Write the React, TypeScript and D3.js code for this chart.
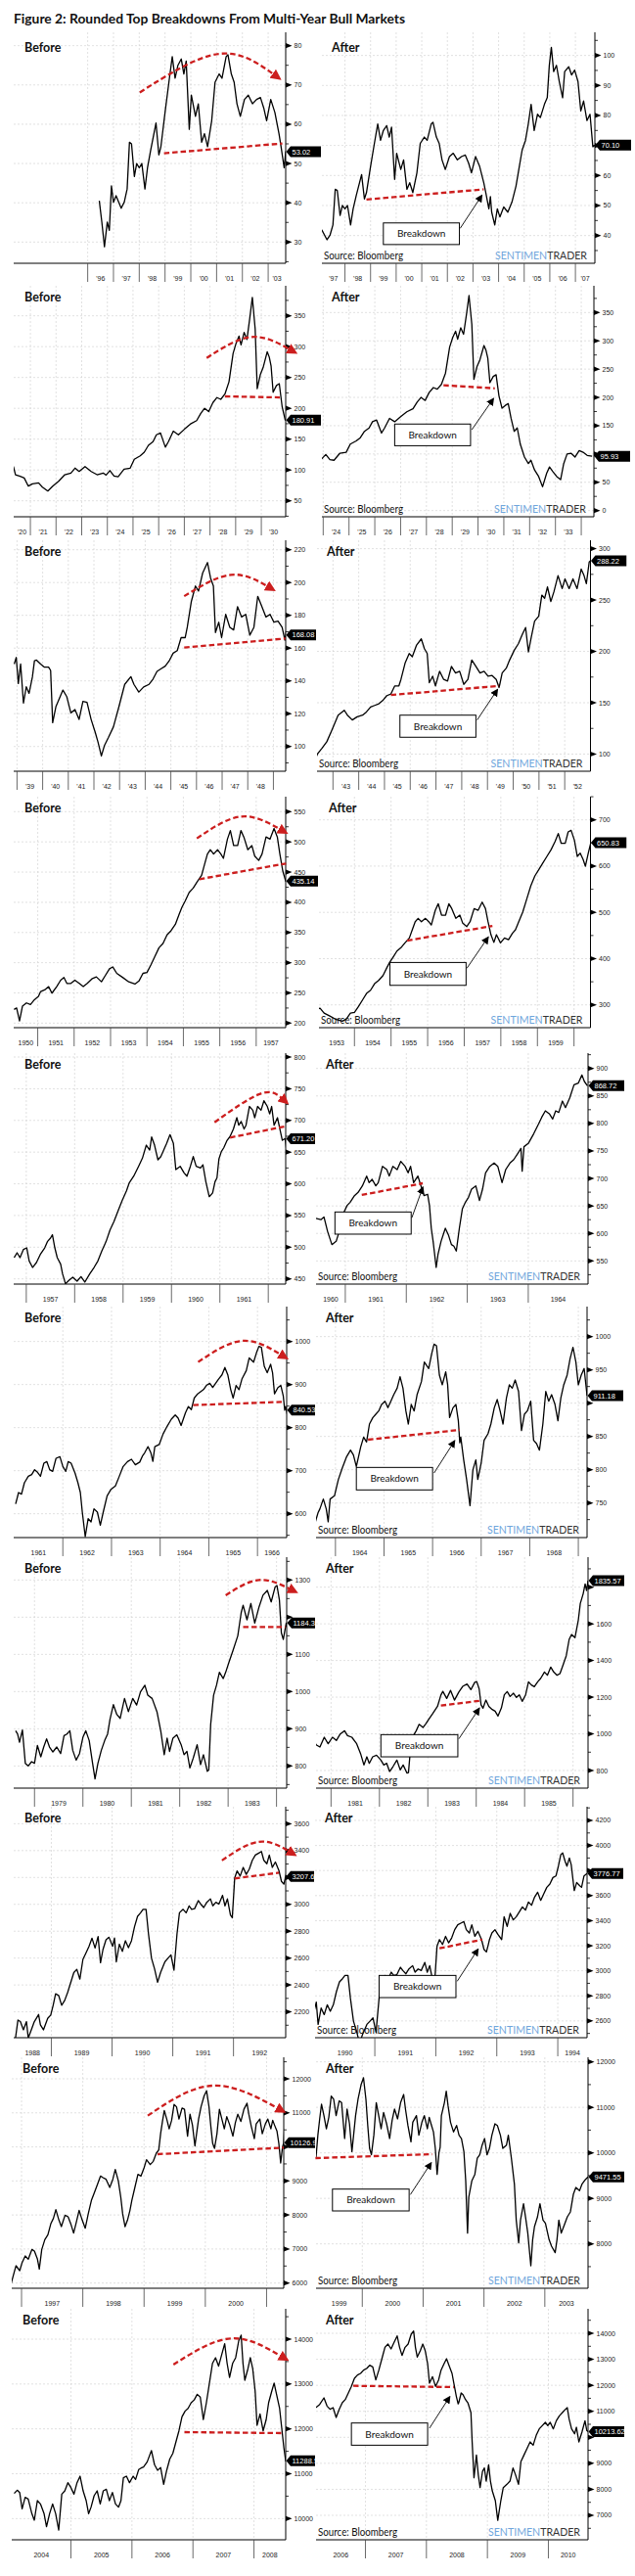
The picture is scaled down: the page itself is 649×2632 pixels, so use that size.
import React from "react";
import * as d3 from "d3";

type P = [number, number];

// ---------------- DATA (fractional year, index value) ----------------
const row1: P[] = [[1996.45,40.5],[1996.55,35],[1996.65,28.8],[1996.76,35.1],[1996.84,33],[1996.92,44.3],[1997.0,40.1],[1997.1,41.8],[1997.3,38.6],[1997.42,40.2],[1997.53,43.5],[1997.62,55.4],[1997.7,55],[1997.81,46.7],[1997.9,50],[1998.0,48.9],[1998.1,50],[1998.22,43.5],[1998.32,48.9],[1998.44,53.3],[1998.65,60.3],[1998.76,52.2],[1998.84,54.3],[1999.0,63],[1999.15,70.7],[1999.28,77.2],[1999.39,71.7],[1999.5,75],[1999.63,76.6],[1999.73,72.8],[1999.82,76.1],[1999.94,58.7],[2000.02,67.4],[2000.18,62],[2000.29,65.2],[2000.42,55.4],[2000.53,57.6],[2000.65,54.3],[2000.81,60.9],[2000.94,70.7],[2001.1,72.8],[2001.21,71.7],[2001.37,77.2],[2001.44,77.7],[2001.57,72.8],[2001.68,70.7],[2001.79,65.2],[2001.92,62],[2002.08,66.3],[2002.23,67.4],[2002.39,65.2],[2002.55,66.3],[2002.7,66.8],[2002.83,64.1],[2002.94,60.9],[2003.1,66.3],[2003.26,63],[2003.42,57.6],[2003.5,54.3],[2003.62,48.9],[2003.68,53],[2003.73,47.8],[2003.85,43.5],[2003.95,48.9],[2004.05,46.2],[2004.2,49.5],[2004.36,47.8],[2004.52,51.1],[2004.68,56.5],[2004.79,62],[2004.92,68.5],[2005.05,71.7],[2005.16,77.2],[2005.27,83.7],[2005.39,75],[2005.52,80.4],[2005.63,79.3],[2005.79,83.7],[2005.9,85.9],[2005.98,96.7],[2006.06,102.7],[2006.15,94.6],[2006.26,96.7],[2006.37,91.3],[2006.5,85.9],[2006.58,94.6],[2006.74,96.2],[2006.85,93.5],[2006.97,95.1],[2007.1,91.3],[2007.21,81.5],[2007.32,84.8],[2007.45,78.3],[2007.57,80.4],[2007.68,69.6],[2007.76,70.1]];

const row2: P[] = [[1920.34,105.6],[1920.42,92.3],[1920.6,89.7],[1920.76,87],[1920.92,73.8],[1921.08,77.5],[1921.32,79],[1921.47,72.2],[1921.68,65.9],[1921.87,73.8],[1922.1,81.7],[1922.34,92.3],[1922.58,95],[1922.74,103],[1922.9,97.6],[1923.13,105.6],[1923.37,97.6],[1923.6,92.3],[1923.84,95],[1923.95,91.7],[1924.1,99],[1924.26,90],[1924.42,88.9],[1924.65,101.4],[1924.89,103],[1925.05,117.4],[1925.28,123],[1925.44,128.9],[1925.6,140],[1925.78,146],[1925.91,157],[1926.07,160],[1926.26,137],[1926.38,146],[1926.57,163],[1926.77,157],[1927.0,166],[1927.24,174.6],[1927.48,180],[1927.64,191.7],[1927.79,200],[1927.95,194.6],[1928.11,209],[1928.27,217.4],[1928.42,214.6],[1928.58,223],[1928.74,243],[1928.9,289],[1929.02,306],[1929.13,317],[1929.21,303],[1929.33,323],[1929.44,311.7],[1929.55,346],[1929.65,380],[1929.76,328.9],[1929.84,231.7],[1929.96,254.6],[1930.07,266],[1930.23,291.7],[1930.31,283],[1930.38,268.9],[1930.46,226],[1930.59,237],[1930.7,240],[1930.81,203],[1930.93,180.9],[1931.06,186],[1931.17,189],[1931.28,163],[1931.4,140],[1931.52,146],[1931.64,117],[1931.8,94.6],[1931.95,83],[1932.05,89],[1932.19,71.7],[1932.35,60],[1932.5,42],[1932.66,66],[1932.77,77],[1932.9,68.9],[1933.05,60],[1933.2,54.6],[1933.32,83],[1933.45,100],[1933.6,101.4],[1933.76,94.6],[1933.92,106],[1934.07,103],[1934.23,97.4],[1934.42,95.93]];

const row3: P[] = [[1938.89,150.3],[1938.97,154.3],[1939.05,138.4],[1939.14,150.3],[1939.25,126.5],[1939.36,136.4],[1939.47,132.4],[1939.6,142.4],[1939.68,152.3],[1939.76,152.7],[1939.92,150.3],[1940.07,148.4],[1940.23,148.4],[1940.31,146.4],[1940.39,114.5],[1940.52,124.5],[1940.63,128.5],[1940.79,134.4],[1940.94,130.4],[1941.1,120.5],[1941.26,122.5],[1941.42,116.5],[1941.57,127.5],[1941.73,126.9],[1941.89,116.5],[1942.05,108.6],[1942.16,102.6],[1942.29,94.2],[1942.41,100.6],[1942.57,105.6],[1942.76,112],[1942.97,124],[1943.2,137.9],[1943.44,142.6],[1943.56,137.9],[1943.75,133.2],[1943.94,136.3],[1944.15,137.9],[1944.3,141],[1944.46,145.8],[1944.62,147.4],[1944.78,149],[1944.93,152.1],[1945.09,156.9],[1945.25,158.5],[1945.4,166.4],[1945.56,166.4],[1945.64,172.7],[1945.8,188.5],[1945.96,197.9],[1946.08,194.8],[1946.24,205.8],[1946.43,212.2],[1946.55,202.7],[1946.66,197.9],[1946.74,169.5],[1946.87,175.8],[1946.98,166.4],[1947.14,180.6],[1947.3,172.7],[1947.45,171.1],[1947.6,185.3],[1947.76,179],[1947.92,180.6],[1948.08,167.9],[1948.24,172.7],[1948.39,191.6],[1948.55,185.3],[1948.71,179],[1948.87,180.6],[1949.02,175.8],[1949.18,176.5],[1949.34,172.7],[1949.45,164.8],[1949.48,168.1],[1949.57,179],[1949.73,183.7],[1949.86,191.6],[1950.04,201.1],[1950.2,207.4],[1950.36,216.9],[1950.48,223.2],[1950.59,199.5],[1950.7,213.7],[1950.83,229.5],[1950.99,234.3],[1951.11,254.8],[1951.22,251.7],[1951.33,262.7],[1951.46,248.5],[1951.58,258],[1951.74,273.8],[1951.9,261.1],[1952.01,270.6],[1952.17,261.1],[1952.32,270.6],[1952.48,261.1],[1952.64,280.1],[1952.75,273.8],[1952.84,265.9],[1952.95,287],[1953.0,288.2]];

const row4: P[] = [[1950.35,222.6],[1950.42,225],[1950.5,203.7],[1950.58,228],[1950.69,233.4],[1950.8,230.7],[1950.91,238.8],[1951.02,244.2],[1951.08,252.3],[1951.19,255],[1951.3,260.4],[1951.39,249.6],[1951.52,260.4],[1951.63,271.1],[1951.72,275.5],[1951.8,265.7],[1951.91,265.7],[1952.02,271.1],[1952.14,265.7],[1952.25,260.4],[1952.36,265.7],[1952.5,273.8],[1952.61,276.5],[1952.75,268.4],[1952.86,279.2],[1952.97,290],[1953.06,293],[1953.17,282.4],[1953.34,275.3],[1953.5,268.3],[1953.67,264.7],[1953.78,269.7],[1953.89,282.4],[1954.0,283.8],[1954.11,296.5],[1954.22,310.6],[1954.33,324.7],[1954.44,331.7],[1954.55,345.9],[1954.66,352.9],[1954.78,363.5],[1954.89,381.1],[1954.96,391.7],[1955.05,402.3],[1955.16,416.4],[1955.27,423.5],[1955.38,434],[1955.5,444.6],[1955.58,462.3],[1955.66,479.9],[1955.74,487],[1955.83,479.9],[1955.94,487],[1956.03,479.9],[1956.1,472.8],[1956.21,504.6],[1956.29,518.7],[1956.38,494],[1956.49,494],[1956.58,518.7],[1956.66,508.1],[1956.77,487],[1956.88,494],[1956.96,476.4],[1957.07,469.3],[1957.16,479.9],[1957.27,508.1],[1957.38,504.6],[1957.49,522.2],[1957.58,508.1],[1957.65,479.9],[1957.73,451.7],[1957.81,435.1],[1957.88,451.7],[1957.99,434],[1958.1,444.6],[1958.21,441],[1958.32,455.2],[1958.4,462.3],[1958.49,479.9],[1958.6,501],[1958.71,529.3],[1958.82,557.5],[1958.93,578.7],[1959.04,592.8],[1959.15,606.9],[1959.26,621],[1959.37,635],[1959.48,652.7],[1959.57,670.4],[1959.65,649.2],[1959.76,649.2],[1959.84,673.9],[1959.92,677.4],[1960.01,656.3],[1960.09,621],[1960.17,628],[1960.25,614],[1960.31,599.8],[1960.39,628],[1960.46,650.8]];

const row5: P[] = [[1956.75,483.5],[1956.81,491.2],[1956.87,483.5],[1956.94,496.3],[1957.01,498.9],[1957.06,478.3],[1957.13,468],[1957.21,475.8],[1957.29,488.6],[1957.38,498.9],[1957.44,509.2],[1957.5,514.4],[1957.54,519.5],[1957.59,498.9],[1957.64,483.5],[1957.71,473.2],[1957.75,457.8],[1957.81,442.3],[1957.88,447.5],[1957.96,452.6],[1958.05,446.4],[1958.13,453.6],[1958.21,444.9],[1958.31,457.8],[1958.4,468],[1958.48,478.3],[1958.56,493.8],[1958.65,509.2],[1958.73,527.2],[1958.81,540.1],[1958.9,558.1],[1958.98,573.5],[1959.07,589],[1959.13,601.9],[1959.22,612.1],[1959.32,627.6],[1959.4,640.5],[1959.48,661],[1959.55,653.3],[1959.59,673.9],[1959.65,661],[1959.72,637.9],[1959.78,643],[1959.84,653.3],[1959.9,663.6],[1959.97,677.5],[1960.04,663.6],[1960.09,622.4],[1960.18,627.6],[1960.26,617.3],[1960.32,612.1],[1960.39,627.6],[1960.45,643],[1960.51,627.6],[1960.6,625],[1960.65,630],[1960.71,603.4],[1960.78,579.7],[1960.85,585.6],[1960.9,603.4],[1960.94,609.4],[1960.98,639],[1961.03,650.9],[1961.08,656.8],[1961.15,668.7],[1961.21,674.6],[1961.28,686.5],[1961.35,704.3],[1961.39,692.4],[1961.44,698.3],[1961.5,686.5],[1961.54,692.4],[1961.61,722],[1961.68,716.1],[1961.72,704.3],[1961.78,722],[1961.85,716.1],[1961.91,731],[1961.98,722],[1962.03,710.2],[1962.07,722],[1962.12,692.4],[1962.19,704.3],[1962.24,686.5],[1962.29,668.7],[1962.35,671.2],[1962.38,650.9],[1962.41,609.4],[1962.44,585.6],[1962.49,538.2],[1962.52,561.9],[1962.57,585.6],[1962.64,609.4],[1962.69,597.5],[1962.74,579.7],[1962.78,576.8],[1962.82,567.9],[1962.87,609.4],[1962.92,645],[1962.97,656.8],[1963.02,665.7],[1963.07,680.5],[1963.14,686.5],[1963.2,659.8],[1963.25,680.5],[1963.3,710.2],[1963.37,722],[1963.44,728],[1963.5,722],[1963.57,692.4],[1963.63,716.1],[1963.7,728],[1963.76,733.9],[1963.83,745.8],[1963.88,754.7],[1963.9,713.2],[1963.93,757.7],[1964.0,763.6],[1964.09,781.4],[1964.17,799.2],[1964.22,811],[1964.28,822.9],[1964.35,817],[1964.4,808],[1964.45,822.9],[1964.5,820],[1964.56,840.7],[1964.61,828.8],[1964.68,846.6],[1964.75,870.3],[1964.82,873.3],[1964.88,888.1],[1964.92,876.3],[1964.97,868.7]];

const row6: P[] = [[1961.03,622.7],[1961.09,649.2],[1961.15,645.5],[1961.21,672],[1961.29,687],[1961.36,690.9],[1961.42,702.3],[1961.48,696.2],[1961.54,687],[1961.61,717.4],[1961.67,721.2],[1961.73,702.3],[1961.79,698.5],[1961.86,728.8],[1961.94,732.6],[1962.0,709.8],[1962.06,698.5],[1962.11,721.2],[1962.17,717.4],[1962.25,694.7],[1962.31,672],[1962.36,649.2],[1962.4,603.8],[1962.46,547],[1962.52,588.6],[1962.58,581.1],[1962.64,611.4],[1962.71,603.8],[1962.77,573.5],[1962.83,603.8],[1962.91,641.7],[1962.99,656.8],[1963.08,664.4],[1963.16,687],[1963.24,709.8],[1963.33,721.2],[1963.41,726.5],[1963.49,713.6],[1963.58,720],[1963.64,735],[1963.68,741.2],[1963.75,755.9],[1963.81,741.2],[1963.85,721.6],[1963.89,755.9],[1963.98,760.8],[1964.06,785.3],[1964.14,802.5],[1964.23,819.6],[1964.31,829.4],[1964.37,822],[1964.43,804.9],[1964.52,834.3],[1964.58,849],[1964.64,841.7],[1964.7,868.6],[1964.77,878.4],[1964.83,883.3],[1964.89,888.2],[1964.95,898],[1965.02,902.9],[1965.08,893.1],[1965.14,902.9],[1965.2,912.7],[1965.27,922.5],[1965.33,939.7],[1965.39,922.5],[1965.45,888.2],[1965.5,868.6],[1965.56,898],[1965.62,888.2],[1965.68,912.7],[1965.77,932.4],[1965.83,961.8],[1965.92,952],[1965.98,974],[1966.03,988.7],[1966.08,986.3],[1966.14,942.2],[1966.2,927.5],[1966.27,947.1],[1966.31,927.5],[1966.35,878.4],[1966.42,893.1],[1966.48,898],[1966.53,873.5],[1966.56,840.5],[1966.58,849],[1966.64,814.7],[1966.7,785.3],[1966.77,746],[1966.83,800],[1966.89,814.7],[1966.93,785.3],[1967.0,809.8],[1967.06,844.1],[1967.14,853.9],[1967.2,868.6],[1967.27,893.1],[1967.33,905.4],[1967.39,888.2],[1967.45,868.6],[1967.52,907.8],[1967.58,927.5],[1967.64,922.5],[1967.7,934.8],[1967.77,917.6],[1967.83,858.8],[1967.89,883.3],[1967.95,888.2],[1968.02,902.9],[1968.08,844.1],[1968.14,839.2],[1968.2,829.4],[1968.27,868.6],[1968.33,917.6],[1968.39,902.9],[1968.45,912.7],[1968.52,898],[1968.58,873.5],[1968.64,907.8],[1968.7,927.5],[1968.77,942.2],[1968.83,966.7],[1968.89,983.8],[1968.95,961.8],[1969.0,927.5],[1969.06,942.2],[1969.12,952],[1969.18,911.2]];

const row7: P[] = [[1978.61,894.7],[1978.65,886],[1978.69,864],[1978.75,896.5],[1978.81,807],[1978.87,800],[1978.94,811.4],[1979.0,807],[1979.06,855],[1979.13,824.6],[1979.19,850.9],[1979.25,872.8],[1979.31,850.9],[1979.38,837.7],[1979.46,850.9],[1979.54,833.3],[1979.61,881.6],[1979.67,885.9],[1979.73,894.7],[1979.79,842],[1979.86,815.8],[1979.93,833.3],[1980.0,877.2],[1980.06,894.7],[1980.13,868.4],[1980.2,807],[1980.25,764.9],[1980.31,807],[1980.38,842],[1980.45,868.4],[1980.51,885.9],[1980.56,925.4],[1980.63,964.9],[1980.7,938.6],[1980.77,928],[1980.86,981.5],[1980.94,945.9],[1981.03,981.5],[1981.11,963.7],[1981.19,999.3],[1981.28,1017],[1981.34,990.4],[1981.43,981.5],[1981.53,945.9],[1981.61,892.5],[1981.68,830.2],[1981.74,874.7],[1981.79,839.1],[1981.86,874.7],[1981.94,883.6],[1982.03,857],[1982.09,830.2],[1982.15,839.1],[1982.21,794.7],[1982.28,821.4],[1982.36,857],[1982.43,803.6],[1982.49,830.2],[1982.57,785.8],[1982.6,789],[1982.64,912],[1982.7,990],[1982.76,1017],[1982.82,1052],[1982.9,1035],[1982.95,1052],[1983.02,1080],[1983.1,1110],[1983.2,1150],[1983.27,1212],[1983.31,1232],[1983.39,1193],[1983.47,1237],[1983.55,1184],[1983.64,1228],[1983.72,1259],[1983.81,1272],[1983.89,1241],[1983.97,1281],[1984.01,1285],[1984.06,1246],[1984.1,1158],[1984.14,1140],[1984.2,1184.3],[1984.26,1150],[1984.33,1132.7],[1984.39,1123.8],[1984.45,1097],[1984.52,1141.6],[1984.58,1212.8],[1984.64,1230.6],[1984.7,1203.9],[1984.77,1221.7],[1984.83,1198.6],[1984.89,1212.8],[1984.95,1177.2],[1985.02,1212.8],[1985.08,1284],[1985.14,1266.2],[1985.2,1257.3],[1985.27,1284],[1985.33,1301.8],[1985.41,1337.4],[1985.47,1319.6],[1985.54,1364],[1985.6,1337.4],[1985.67,1319.6],[1985.73,1328.5],[1985.79,1373],[1985.86,1426.3],[1985.92,1515.3],[1985.97,1542],[1986.04,1524.2],[1986.11,1622],[1986.15,1711],[1986.21,1764.4],[1986.25,1817.8],[1986.28,1782],[1986.31,1835.6]];

const row8: P[] = [[1988.41,2005],[1988.45,2139],[1988.49,2127],[1988.54,2066],[1988.59,2127],[1988.62,2005],[1988.67,2066],[1988.72,2127],[1988.79,2180],[1988.82,2103],[1988.87,2066],[1988.94,2151],[1988.99,2176],[1989.03,2249],[1989.07,2334],[1989.12,2322],[1989.17,2249],[1989.22,2285],[1989.27,2346],[1989.32,2419],[1989.37,2492],[1989.42,2516],[1989.47,2443],[1989.52,2590],[1989.57,2638],[1989.62,2687],[1989.67,2748],[1989.72,2675],[1989.77,2760],[1989.81,2565],[1989.85,2663],[1989.9,2736],[1989.95,2755],[1990.01,2687],[1990.04,2750],[1990.07,2572],[1990.12,2703],[1990.17,2650],[1990.22,2729],[1990.27,2677],[1990.32,2729],[1990.37,2833],[1990.42,2911],[1990.47,2937],[1990.51,2963],[1990.56,2963],[1990.6,2781],[1990.65,2598],[1990.7,2520],[1990.75,2420],[1990.8,2494],[1990.87,2572],[1990.92,2598],[1990.97,2624],[1991.02,2510],[1991.07,2781],[1991.11,2937],[1991.17,2963],[1991.22,2937],[1991.27,2989],[1991.31,2963],[1991.36,2968],[1991.42,3028],[1991.46,3002],[1991.51,2976],[1991.56,3015],[1991.62,3041],[1991.66,2989],[1991.71,3015],[1991.76,3002],[1991.82,3067],[1991.86,2989],[1991.9,3041],[1991.95,2920],[1991.98,2900],[1992.02,3197],[1992.06,3249],[1992.11,3210],[1992.16,3275],[1992.21,3223],[1992.26,3262],[1992.31,3328],[1992.36,3367],[1992.41,3380],[1992.46,3393],[1992.5,3328],[1992.55,3302],[1992.59,3367],[1992.64,3275],[1992.69,3315],[1992.75,3249],[1992.79,3171],[1992.83,3150],[1992.86,3207.6],[1992.88,3249],[1992.92,3302],[1992.97,3328],[1993.02,3289],[1993.08,3249],[1993.12,3432],[1993.17,3354],[1993.22,3458],[1993.27,3406],[1993.32,3432],[1993.37,3471],[1993.42,3510],[1993.47,3484],[1993.52,3549],[1993.57,3523],[1993.62,3588],[1993.67,3627],[1993.72,3562],[1993.77,3614],[1993.82,3666],[1993.87,3692],[1993.92,3744],[1993.97,3757],[1994.01,3835],[1994.05,3927],[1994.08,3940],[1994.12,3874],[1994.15,3835],[1994.19,3900],[1994.22,3848],[1994.27,3640],[1994.31,3705],[1994.36,3679],[1994.39,3666],[1994.43,3757],[1994.48,3776.8]];

const row9: P[] = [[1996.83,5981],[1996.88,6316],[1996.91,6508],[1996.97,6364],[1997.01,6604],[1997.06,6795],[1997.11,6700],[1997.17,6987],[1997.21,6939],[1997.26,6700],[1997.29,6412],[1997.33,6987],[1997.38,7275],[1997.43,7418],[1997.48,7754],[1997.52,7898],[1997.56,8156],[1997.61,7850],[1997.65,7658],[1997.71,7993],[1997.76,7946],[1997.81,7706],[1997.85,7466],[1997.89,7754],[1997.94,8137],[1997.99,7850],[1998.04,7610],[1998.09,8041],[1998.14,8425],[1998.18,8616],[1998.24,8904],[1998.29,9144],[1998.33,9096],[1998.38,9048],[1998.44,8808],[1998.49,9048],[1998.53,9335],[1998.58,9000],[1998.62,8521],[1998.65,8041],[1998.69,7658],[1998.73,7850],[1998.77,8137],[1998.8,8425],[1998.85,8808],[1998.9,9192],[1998.95,9144],[1999.0,9383],[1999.04,9623],[1999.1,9479],[1999.15,9575],[1999.2,9815],[1999.24,9910],[1999.27,10387],[1999.3,10746],[1999.33,11068],[1999.37,10817],[1999.41,10530],[1999.45,10781],[1999.49,11247],[1999.53,11176],[1999.57,10817],[1999.62,11140],[1999.66,11104],[1999.71,10315],[1999.75,10961],[1999.79,10638],[1999.83,10029],[1999.89,10817],[1999.93,11176],[1999.98,11498],[2000.02,11650],[2000.06,11176],[2000.09,10602],[2000.12,10100],[2000.15,9957],[2000.19,10387],[2000.23,11104],[2000.27,10817],[2000.31,10530],[2000.35,10889],[2000.4,10638],[2000.45,10315],[2000.49,10710],[2000.53,10961],[2000.58,10746],[2000.63,11104],[2000.68,11283],[2000.71,10961],[2000.75,10602],[2000.8,10244],[2000.83,10674],[2000.89,10817],[2000.93,10387],[2000.98,10674],[2001.02,10817],[2001.07,10530],[2001.1,10781],[2001.13,10638],[2001.17,10459],[2001.2,10100],[2001.23,9527],[2001.26,10000],[2001.28,10126.9],[2001.3,10817],[2001.35,11104],[2001.38,11355],[2001.41,11032],[2001.45,10674],[2001.5,10459],[2001.55,10602],[2001.59,10387],[2001.63,10315],[2001.67,10029],[2001.7,9384],[2001.73,8237],[2001.75,9025],[2001.8,9384],[2001.85,9527],[2001.89,9885],[2001.93,9957],[2001.97,10172],[2002.01,10315],[2002.05,9957],[2002.09,10100],[2002.13,10387],[2002.18,10638],[2002.22,10602],[2002.27,10387],[2002.31,10100],[2002.37,10172],[2002.4,10387],[2002.45,9885],[2002.5,9312],[2002.53,8523],[2002.57,8022],[2002.6,8523],[2002.65,8882],[2002.69,8523],[2002.72,8237],[2002.77,7520],[2002.8,8093],[2002.83,8380],[2002.88,8595],[2002.92,8882],[2002.97,8523],[2003.01,8452],[2003.07,8093],[2003.11,7950],[2003.17,7806],[2003.2,8093],[2003.23,8523],[2003.27,8237],[2003.31,8380],[2003.37,8595],[2003.42,8703],[2003.47,9097],[2003.51,9240],[2003.57,9168],[2003.61,9312],[2003.67,9419],[2003.71,9471.6]];

const row10: P[] = [[2004.07,10560],[2004.12,10633],[2004.16,10582],[2004.2,10218],[2004.25,10473],[2004.3,10436],[2004.36,10109],[2004.4,9964],[2004.45,10400],[2004.5,10327],[2004.56,10109],[2004.6,9818],[2004.65,10109],[2004.7,10327],[2004.75,10109],[2004.8,9745],[2004.85,10545],[2004.9,10618],[2004.95,10800],[2005.0,10691],[2005.05,10545],[2005.1,10800],[2005.15,10945],[2005.2,10618],[2005.25,10400],[2005.29,10109],[2005.33,10255],[2005.38,10509],[2005.43,10618],[2005.48,10327],[2005.53,10618],[2005.58,10655],[2005.63,10400],[2005.68,10582],[2005.73,10327],[2005.78,10255],[2005.82,10400],[2005.86,10909],[2005.91,10945],[2005.96,10800],[2006.02,10945],[2006.06,10873],[2006.11,11091],[2006.15,11127],[2006.19,11150],[2006.25,11265],[2006.32,11516],[2006.37,11202],[2006.42,11077],[2006.47,11139],[2006.52,10763],[2006.57,11077],[2006.62,11327],[2006.67,11453],[2006.72,11704],[2006.77,11955],[2006.82,12268],[2006.87,12394],[2006.92,12457],[2006.97,12582],[2007.02,12645],[2007.07,12770],[2007.12,12708],[2007.17,12206],[2007.22,12582],[2007.27,13021],[2007.32,13460],[2007.37,13586],[2007.42,13398],[2007.47,13649],[2007.52,13900],[2007.56,13460],[2007.6,13147],[2007.65,13460],[2007.7,13586],[2007.75,13962],[2007.79,14088],[2007.82,13460],[2007.85,13084],[2007.9,13335],[2007.94,13586],[2007.98,13335],[2008.02,12833],[2008.05,12080],[2008.1,12331],[2008.15,11955],[2008.2,12206],[2008.24,12582],[2008.29,12833],[2008.33,13021],[2008.37,12770],[2008.42,12457],[2008.45,12080],[2008.49,11578],[2008.52,11288],[2008.53,11327],[2008.57,11704],[2008.6,11641],[2008.64,11453],[2008.68,11327],[2008.73,10951],[2008.75,9822],[2008.78,8442],[2008.82,9320],[2008.85,8567],[2008.88,8065],[2008.92,8693],[2008.95,8818],[2008.98,8316],[2009.02,8944],[2009.05,8316],[2009.08,7940],[2009.13,7564],[2009.17,6810],[2009.22,7564],[2009.26,8065],[2009.32,8191],[2009.37,8316],[2009.42,8818],[2009.46,8567],[2009.51,8191],[2009.55,9069],[2009.6,9320],[2009.65,9571],[2009.7,9822],[2009.75,9696],[2009.8,10073],[2009.85,10324],[2009.9,10449],[2009.95,10575],[2009.99,10449],[2010.03,10575],[2010.08,10324],[2010.13,10637],[2010.18,10826],[2010.23,10951],[2010.28,11077],[2010.31,11139],[2010.34,10700],[2010.38,10324],[2010.43,10135],[2010.46,10386],[2010.5,9822],[2010.55,10198],[2010.6,10637],[2010.63,10261],[2010.66,10213.6]];

const SERIES: P[][] = [row1, row2, row3, row4, row5, row6, row7, row8, row9, row10];

// axis domains (years, values)
const xDomL: P[] = [[1993.13,2003.68],[1920.35,1930.95],[1938.87,1949.48],[1950.34,1957.81],[1956.74,1962.36],[1960.99,1966.6],[1978.57,1984.21],[1988.38,1992.86],[1996.84,2001.28],[2004.03,2008.52]];
const xDomR: P[] = [[1997.1,2007.76],[1923.95,1934.49],[1942.38,1953.0],[1953.03,1960.45],[1960.52,1964.98],[1963.6,1969.18],[1980.69,1986.31],[1990.02,1994.48],[1999.24,2003.71],[2006.19,2010.65]];
const yDomL: P[] = [[24.6,83.4],[24.1,398.7],[84.9,225.8],[192.5,574.8],[441.8,806.2],[544.7,1081],[740.4,1361.4],[2007.3,3726.6],[5846.7,12632.6],[9527.3,14676.4]];
const yDomR: P[] = [[30.76,107.7],[-11,397.3],[83.3,308.2],[250.8,750.1],[507.9,927.9],[698,1045.1],[704,1963.7],[2466,4309.3],[7025,12100.4],[6059,14940.9]];
const yTicksL: number[][] = [[30,80,10],[50,350,50],[100,220,20],[200,550,50],[450,800,50],[600,1000,100],[800,1300,100],[2200,3600,200],[6000,12000,1000],[10000,14000,1000]];
const yTicksR: number[][] = [[40,100,10],[0,350,50],[100,300,50],[300,700,100],[550,900,50],[750,1000,50],[800,1800,200],[2600,4200,200],[8000,12000,1000],[7000,14000,1000]];
const yearsL: P[] = [[1996,2003],[1920,1930],[1939,1948],[1950,1957],[1957,1961],[1961,1966],[1979,1983],[1988,1992],[1997,2000],[2004,2008]];
const yearsR: P[] = [[1997,2007],[1924,1933],[1943,1952],[1953,1959],[1960,1964],[1964,1968],[1981,1985],[1990,1994],[1999,2003],[2006,2010]];
const shortYears = [true, true, true, false, false, false, false, false, false, false];
const lastL = ["53.02","180.91","168.08","435.14","671.20","840.53","1184.33","3207.64","10126.94","11288.53"];
const lastR = ["70.10","95.93","288.22","650.83","868.72","911.18","1835.57","3776.77","9471.55","10213.62"];

// annotations (data coordinates)
const supportL: P[][] = [[[1998.96,52.6],[2003.55,55.1]],[[1928.58,219.3],[1930.72,217.7]],[[1945.52,160.3],[1949.47,165.9]],[[1955.44,438.3],[1957.82,464.2]],[[1961.21,672.9],[1962.33,690.4]],[[1964.68,852.3],[1966.52,859.8]],[[1983.31,1173.7],[1984.18,1173.7]],[[1992.02,3193],[1992.75,3235]],[[1999.22,9786],[2001.28,9978]],[[2006.86,11927],[2008.48,11905]]];
const supportR: P[][] = [[[1998.84,52],[2003.42,55.4]],[[1928.66,221.4],[1930.65,216]],[[1945.25,157.5],[1949.45,166.4]],[[1955.44,439],[1957.77,470.7]],[[1961.27,669.9],[1962.27,691.2]],[[1964.67,845.1],[1966.56,859.8]],[[1983.27,1154],[1984.08,1180.8]],[[1992.06,3179],[1992.76,3249]],[[1999.23,9885],[2001.15,9971]],[[2006.8,11980],[2008.45,11930]]];
const arcsL: P[][] = [[[1998.02,68.1],[2001.08,77.9],[2003.28,72.4]],[[1927.87,281.7],[1929.61,315.6],[1931.16,294.4]],[[1945.52,191.7],[1947.34,204.7],[1948.84,197.1]],[[1955.37,505.8],[1956.59,541.9],[1957.7,519.3]],[[1960.89,697],[1961.85,742.4],[1962.31,733]],[[1964.78,952.3],[1965.69,1001.5],[1966.51,967.4]],[[1982.95,1258.8],[1983.64,1300],[1984.31,1273.7]],[[1991.81,3327],[1992.42,3466],[1992.94,3388]],[[1999.06,10917],[2000.12,11799],[2001.21,11108]],[[2006.68,13433],[2007.62,14015],[2008.47,13600]]];
const boxesR: number[][] = [[1999.5,44.2,2002.47,37],[1926.77,152.9,1929.71,114.6],[1945.6,137.9,1948.55,116.4],[1954.97,391.7,1957.05,342.3],[1960.83,639,1962.08,598.7],[1964.43,803.4,1966.0,769.6],[1982.03,995.7,1983.62,874.7],[1991.07,2963,1992.33,2786],[1999.51,9204,2000.77,8724],[2006.77,10550,2008.02,9696]];
const arrowsR: P[][] = [[[2002.5,42.4],[2003.34,53.3]],[[1929.76,143],[1930.59,197.4]],[[1948.6,133.2],[1949.38,162.6]],[[1957.07,379],[1957.65,446]],[[1962.09,628.4],[1962.27,683.5]],[[1966.03,795],[1966.45,843]],[[1983.64,972.6],[1984.06,1138]],[[1992.35,2916],[1992.69,3171]],[[2000.79,9082],[2001.13,9778]],[[2008.05,10349],[2008.38,11553]]];

// ---------------- LAYOUT ----------------
const W = 649, H = 2632;
const ROW_BOTTOM = [269, 528, 788, 1050, 1312, 1571, 1827, 2082, 2338, 2595];
const PLOT_H = 236;
const LEFT_PX: P[] = [[14,292],[14,292],[14,292],[14,292],[14,292],[14,293],[14,293],[14,292],[12,290],[12,292]];
const RIGHT_PX: P[] = [[329,608],[329,607],[324,603.5],[326,603.5],[323,601],[323,600],[323,601],[322,600],[323,601],[323,601]];
const RED = "#cc1e1e";
const FONT = "Lato, 'Liberation Sans', sans-serif";
const TICKFONT = "'Liberation Sans', Arial, sans-serif";

function Panel({ r, side }: { r: number; side: "L" | "R" }) {
  const isL = side === "L";
  const [xL, xR] = isL ? LEFT_PX[r] : RIGHT_PX[r];
  const bottom = ROW_BOTTOM[r];
  const top = bottom - PLOT_H;
  const xd = isL ? xDomL[r] : xDomR[r];
  const yd = isL ? yDomL[r] : yDomR[r];
  const x = d3.scaleLinear().domain(xd).range([xL, xR]);
  const y = d3.scaleLinear().domain(yd).range([bottom, top]);
  const [t0, t1, step] = isL ? yTicksL[r] : yTicksR[r];
  const major = d3.range(t0, t1 + step / 2, step);
  const minor = d3.range(t0 - step / 2, t1 + step, step).filter((v) => v > yd[0] && v < yd[1]);
  const [yA, yB] = isL ? yearsL[r] : yearsR[r];
  const yearTicks = d3.range(yA, yB + 2).filter((yr) => x(yr) > xL + 1 && x(yr) < xR - 1);
  const labels = d3.range(yA, yB + 1).map((yr) => {
    const a = Math.max(x(yr), xL);
    const b = Math.min(x(yr + 1), xR);
    return { yr, cx: (a + b) / 2 };
  });
  const data = SERIES[r].filter((d) => d[0] >= xd[0] - 0.3 && d[0] <= xd[1] + 0.3);
  const line = d3.line<P>().x((d) => x(d[0])).y((d) => y(d[1]));
  const clipId = `clip-${r}-${side}`;
  const labClip = `lab-${r}-${side}`;
  const lastTxt = isL ? lastL[r] : lastR[r];
  const lastY = y(parseFloat(lastTxt));
  const boxW = isL ? Math.min(36, RIGHT_PX[r][0] - xR - 1) : 37;
  const sup = isL ? supportL[r] : supportR[r];
  const arcPath = isL
    ? d3.line<P>().x((d) => x(d[0])).y((d) => y(d[1])).curve(d3.curveNatural)(arcsL[r])
    : null;
  const box = boxesR[r];
  const arr = arrowsR[r];

  return (
    <g>
      <defs>
        <clipPath id={clipId}>
          <rect x={xL} y={top} width={xR - xL} height={PLOT_H} />
        </clipPath>
        <clipPath id={labClip}>
          <rect x={xR} y={lastY - 7} width={boxW} height={14} />
        </clipPath>
      </defs>
      {/* gridlines */}
      {major.map((v) => (
        <line key={"hg" + v} x1={xL} x2={xR} y1={y(v)} y2={y(v)} stroke="#d4d4d4" strokeWidth={0.7} strokeDasharray="2,2" />
      ))}
      {yearTicks.map((yr) => (
        <line key={"vg" + yr} x1={x(yr)} x2={x(yr)} y1={top} y2={bottom} stroke="#d4d4d4" strokeWidth={0.7} strokeDasharray="2,2" />
      ))}
      {/* series */}
      <path d={line(data) || ""} fill="none" stroke="#000" strokeWidth={1.3} strokeLinejoin="round" clipPath={`url(#${clipId})`} />
      {/* axes */}
      <line x1={xL} x2={xR} y1={bottom} y2={bottom} stroke="#000" strokeWidth={1} />
      <line x1={xR} x2={xR} y1={top} y2={bottom} stroke="#000" strokeWidth={1} />
      {yearTicks.map((yr) => (
        <line key={"xt" + yr} x1={x(yr)} x2={x(yr)} y1={bottom} y2={bottom + 19} stroke="#444" strokeWidth={0.8} />
      ))}
      {labels.map(({ yr, cx }) => (
        <text key={"xl" + yr} x={cx} y={bottom + 17.5} fontSize={7} fontFamily={TICKFONT} textAnchor="middle" fill="#222">
          {shortYears[r] ? "'" + String(yr).slice(2) : String(yr)}
        </text>
      ))}
      {minor.map((v) => (
        <line key={"mt" + v} x1={xR} x2={xR + 3} y1={y(v)} y2={y(v)} stroke="#000" strokeWidth={0.8} />
      ))}
      {major.map((v) => (
        <g key={"yt" + v}>
          <path d={`M${xR},${y(v) - 2.6}L${xR + 6.5},${y(v)}L${xR},${y(v) + 2.6}Z`} fill="#000" />
          {Math.abs(y(v) - lastY) > 8 && (
            <text x={xR + 8.5} y={y(v) + 2.5} fontSize={7} fontFamily={TICKFONT} fill="#222">
              {v}
            </text>
          )}
        </g>
      ))}
      {/* last value label */}
      <g clipPath={`url(#${labClip})`}>
        <path d={`M${xR + 0.5},${lastY}L${xR + 5},${lastY - 5.5}L${xR + boxW},${lastY - 5.5}L${xR + boxW},${lastY + 5.5}L${xR + 5},${lastY + 5.5}Z`} fill="#000" />
        <text x={xR + 6.5} y={lastY + 2.6} fontSize={7.5} fontFamily={TICKFONT} fill="#fff">
          {lastTxt}
        </text>
      </g>
      {/* panel title */}
      <text x={xL + (isL ? 11 : 10)} y={top + (r === 0 ? 19.5 : 15.5)} fontSize={12.5} fontWeight="bold" fontFamily={FONT} fill="#111">
        {isL ? "Before" : "After"}
      </text>
      {/* support line */}
      <line x1={x(sup[0][0])} y1={y(sup[0][1])} x2={x(sup[1][0])} y2={y(sup[1][1])} stroke={RED} strokeWidth={2.3} strokeDasharray="5.5,3" />
      {isL && arcPath && (
        <path d={arcPath} fill="none" stroke={RED} strokeWidth={2.3} strokeDasharray="5.5,3" markerEnd="url(#redArrow)" />
      )}
      {!isL && (
        <g>
          <rect x={x(box[0])} y={y(box[1])} width={x(box[2]) - x(box[0])} height={y(box[3]) - y(box[1])} fill="#fff" stroke="#000" strokeWidth={1} />
          <text x={(x(box[0]) + x(box[2])) / 2} y={(y(box[1]) + y(box[3])) / 2 + 3.6} fontSize={10} fontFamily={FONT} textAnchor="middle" fill="#111">
            Breakdown
          </text>
          <line x1={x(arr[0][0])} y1={y(arr[0][1])} x2={x(arr[1][0])} y2={y(arr[1][1])} stroke="#000" strokeWidth={0.9} markerEnd="url(#blackArrow)" />
          <text x={xL + 2} y={bottom - 4.5} fontSize={10.5} fontFamily={FONT} fill="#111" textLength={81} lengthAdjust="spacingAndGlyphs">
            Source: Bloomberg
          </text>
          <text x={xR - 102} y={bottom - 4.5} fontSize={11.5} fontFamily={FONT} textLength={94} lengthAdjust="spacingAndGlyphs">
            <tspan fill="#6fa6dc">SENTIMEN</tspan>
            <tspan fill="#333">TRADER</tspan>
          </text>
        </g>
      )}
    </g>
  );
}

export default function App() {
  const rows = d3.range(10);
  return (
    <div style={{ position: "absolute", left: 0, top: 0, width: W, height: H, background: "#fff" }}>
      <svg width={W} height={H} viewBox={`0 0 ${W} ${H}`} style={{ display: "block" }}>
        <defs>
          <marker id="redArrow" viewBox="0 0 10 10" refX="3" refY="5" markerWidth="11" markerHeight="11" markerUnits="userSpaceOnUse" orient="auto">
            <path d="M0,0L10,5L0,10Z" fill={RED} />
          </marker>
          <marker id="blackArrow" viewBox="0 0 10 10" refX="8" refY="5" markerWidth="8" markerHeight="8" markerUnits="userSpaceOnUse" orient="auto">
            <path d="M0,0L10,5L0,10Z" fill="#000" />
          </marker>
        </defs>
        <rect x={0} y={0} width={W} height={H} fill="#fff" />
        <text x={14} y={23.5} fontSize={13.5} fontWeight="bold" fontFamily={FONT} fill="#111" textLength={400} lengthAdjust="spacingAndGlyphs">
          Figure 2: Rounded Top Breakdowns From Multi-Year Bull Markets
        </text>
        {rows.map((r) => (
          <g key={r}>
            <Panel r={r} side="L" />
            <Panel r={r} side="R" />
          </g>
        ))}
      </svg>
    </div>
  );
}
